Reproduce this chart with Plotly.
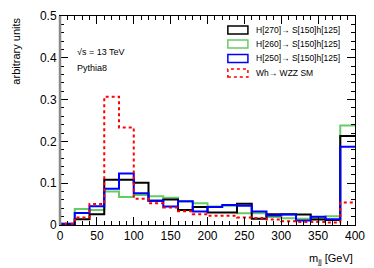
import plotly.graph_objects as go

bin_edges = list(range(0, 420, 20))
h270 = [0.002, 0.014, 0.026, 0.108, 0.108, 0.101, 0.058, 0.061, 0.036, 0.043,
        0.030, 0.030, 0.051, 0.015, 0.026, 0.026, 0.025, 0.013, 0.012, 0.213]
h260 = [0.003, 0.038, 0.036, 0.080, 0.067, 0.072, 0.069, 0.065, 0.056, 0.052,
        0.044, 0.046, 0.028, 0.028, 0.019, 0.016, 0.015, 0.017, 0.021, 0.238]
h250 = [0.003, 0.029, 0.045, 0.087, 0.123, 0.076, 0.058, 0.044, 0.057, 0.032,
        0.043, 0.048, 0.046, 0.032, 0.023, 0.025, 0.011, 0.020, 0.014, 0.187]
wh_sm = [0.003, 0.018, 0.050, 0.307, 0.233, 0.063, 0.052, 0.042, 0.033, 0.026,
         0.022, 0.022, 0.018, 0.017, 0.013, 0.009, 0.007, 0.007, 0.006, 0.054]

labels = ["H[270]\u2192 S[150]h[125]", "H[260]\u2192 S[150]h[125]",
          "H[250]\u2192 S[150]h[125]", "Wh\u2192 WZZ SM"]
series = [h270, h260, h250, wh_sm]
colors = ["#000000", "#66cc66", "#0000ff", "#ff0000"]
dashes = ["solid", "solid", "solid", "dot"]

fig = go.Figure()
order = [1, 0, 2, 3]
for i in order:
    vals = series[i]
    x = [bin_edges[0]] + bin_edges
    y = [0] + vals + [vals[-1]]
    fig.add_trace(go.Scatter(x=x, y=y, mode="lines", line_shape="hv",
                             line=dict(color=colors[i], width=2, dash=dashes[i]),
                             showlegend=False, hoverinfo="skip"))

font = "Liberation Sans, Arial, Helvetica, sans-serif"
fig.update_layout(
    width=366, height=260,
    margin=dict(l=52, r=19, t=8, b=43, autoexpand=False),
    paper_bgcolor="white", plot_bgcolor="white",
    font=dict(family=font, size=11, color="black"),
    xaxis=dict(range=[0, 400], showgrid=False, zeroline=False,
               showline=True, linecolor="black", linewidth=1, mirror="allticks",
               ticks="inside", ticklen=8, tickcolor="black", dtick=50, tick0=0,
               minor=dict(ticks="inside", ticklen=4, dtick=10, tickcolor="black"),
               tickfont=dict(size=12), automargin=False),
    yaxis=dict(range=[0, 0.5], showgrid=False, zeroline=False,
               showline=True, linecolor="black", linewidth=1, mirror="allticks",
               ticks="inside", ticklen=8, tickcolor="black",
               tickvals=[0, 0.1, 0.2, 0.3, 0.4, 0.5],
               ticktext=["0", "0.1", "0.2", "0.3", "0.4", "0.5"],
               minor=dict(ticks="inside", ticklen=4, dtick=0.02, tickcolor="black"),
               tickfont=dict(size=12), automargin=False),
)

# gray left frame edge as in the reference
fig.add_shape(type="line", xref="paper", yref="paper", x0=0, x1=0, y0=0, y1=1,
              line=dict(color="#8a8a8a", width=2.5), layer="above")

fig.add_annotation(text="arbitrary units", xref="paper", yref="paper",
                   x=-0.125, y=1.0, xanchor="right", yanchor="top", textangle=-90,
                   showarrow=False, font=dict(size=11))
fig.add_annotation(text="m<sub>jj</sub> [GeV]", xref="paper", yref="paper",
                   x=1.0, y=-0.12, xanchor="right", yanchor="top",
                   showarrow=False, font=dict(size=11))

fig.add_annotation(text="\u221as = 13 TeV", xref="paper", yref="paper",
                   x=0.05, y=0.828, xanchor="left", yanchor="middle",
                   showarrow=False, font=dict(size=9))
fig.add_annotation(text="Pythia8", xref="paper", yref="paper",
                   x=0.05, y=0.751, xanchor="left", yanchor="middle",
                   showarrow=False, font=dict(size=9))

rows = [0.933, 0.866, 0.797, 0.727]
for lab, c, d, yc in zip(labels, colors, dashes, rows):
    fig.add_shape(type="rect", xref="paper", yref="paper",
                  x0=0.569, x1=0.637, y0=yc - 0.019, y1=yc + 0.019,
                  line=dict(color=c, width=1.5, dash=d), fillcolor="white")
    fig.add_annotation(text=lab, xref="paper", yref="paper",
                       x=0.658, y=yc, xanchor="left", yanchor="middle",
                       showarrow=False, font=dict(size=8.5))

fig.write_html("out.html")
